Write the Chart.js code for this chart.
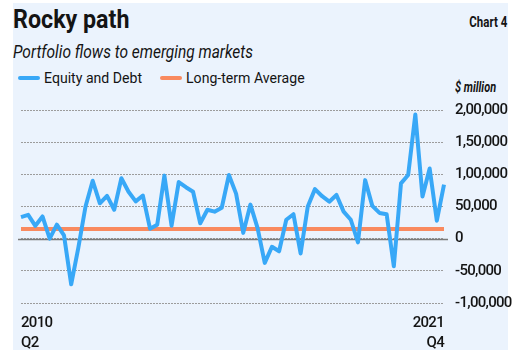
<!DOCTYPE html>
<html>
<head>
<meta charset="utf-8">
<script src="https://cdn.jsdelivr.net/npm/chart.js@4/dist/chart.umd.min.js"></script>
<style>
  body { margin: 0; background: #fff; }
  #box { position: relative; width: 527px; height: 361px; overflow: hidden; }
  #panel { position: absolute; left: 13px; top: 3px; width: 495px; height: 347px; background: #ebf3fd; }
  .txt { position: absolute; font-family: "Roboto", sans-serif; color: #141414; white-space: nowrap; transform-origin: left center; }
  #title { left: 13px; top: 7px; font-size: 25px; line-height: 26px; font-weight: bold; transform: scaleX(0.93); }
  #chartNo { right: 20px; top: 14px; font-size: 14px; line-height: 16px; font-weight: bold; transform-origin: right center; transform: scaleX(0.82); }
  #subtitle { left: 13px; top: 42px; font-size: 18px; line-height: 20px; font-style: italic; transform: scaleX(0.86); }
  #unit { left: 455px; top: 79px; font-size: 14px; line-height: 16px; font-weight: bold; font-style: italic; transform: scaleX(0.78); }
  .sw { position: absolute; height: 4px; width: 22px; border-radius: 2px; }
  .leg { top: 69px; font-size: 15px; line-height: 18px; transform: scaleX(0.94); }
  canvas { position: absolute; left: 0; top: 0; }
</style>
</head>
<body>
<div id="box">
  <div id="panel"></div>
  <div class="txt" id="title">Rocky path</div>
  <div class="txt" id="chartNo">Chart 4</div>
  <div class="txt" id="subtitle">Portfolio flows to emerging markets</div>
  <div id="legend"></div>
  <div class="txt" id="unit">$ million</div>
  <canvas id="grafico" width="527" height="361"></canvas>
</div>
<script>
// dati ($ million), un punto per periodo da 2010 Q2 a 2021 Q4
var equityDebt = [33600, 37000, 20000, 34500, 0, 21700, 5000, -71000, -14000, 50000,
  90000, 55000, 66500, 45000, 94000, 73000, 58000, 67000, 15500, 21700,
  98000, 20000, 88000, 80000, 73000, 24000, 45000, 42000, 48000, 99000,
  70000, 9000, 53000, 16500, -37600, -12500, -19600, 29400, 38000, -23000,
  50000, 77000, 66000, 57500, 68000, 42000, 29400, -5700, 91000, 51000,
  40000, 38000, -43000, 86000, 99000, 193000, 65500, 109000, 28000, 84000];
var longTermAvg = 15000;

var firstTick = ['2010', 'Q2'];
var lastTick = ['2021', 'Q4'];
var yTicks = [-100000, -50000, 0, 50000, 100000, 150000, 200000];
var yTickText = ['-1,00,000', '-50,000', '0', '50,000', '1,00,000', '1,50,000', '2,00,000'];

var seriesNames = ['Equity and Debt', 'Long-term Average'];
var seriesColors = ['#38a8f7', '#f98a5f'];

var categorie = equityDebt.map(function (v, i) {
  if (i === 0) return firstTick;
  if (i === equityDebt.length - 1) return lastTick;
  return '';
});

// legenda html
var legendHtml = '';
var legX = [18, 160];
for (var s = 0; s < seriesNames.length; s++) {
  legendHtml += '<div class="sw" style="left:' + legX[s] + 'px;top:76px;background:' + seriesColors[s] + '"></div>';
  legendHtml += '<div class="txt leg" style="left:' + (legX[s] + 26) + 'px">' + seriesNames[s] + '</div>';
}
document.getElementById('legend').innerHTML = legendHtml;

// testo un po' piu stretto sul canvas (font condensato non disponibile)
var strettoTesto = {
  id: 'strettoTesto',
  beforeUpdate: function (chart) { chart.ctx.letterSpacing = '-0.7px'; },
  beforeDraw: function (chart) { chart.ctx.letterSpacing = '-0.7px'; }
};

// linea dello zero
var zeroLine = {
  id: 'zeroLine',
  beforeDatasetsDraw: function (chart) {
    var ctx = chart.ctx;
    var area = chart.chartArea;
    var y = Math.round(chart.scales.y.getPixelForValue(0)) + 0.5;
    ctx.save();
    ctx.strokeStyle = '#7a7a7a';
    ctx.lineWidth = 1.6;
    ctx.beginPath();
    ctx.moveTo(area.left - 3, y);
    ctx.lineTo(area.right + 4, y);
    ctx.stroke();
    ctx.restore();
  }
};

var fontBase = { family: '"Roboto", sans-serif', size: 15, weight: '500' };

var grafico = new Chart(document.getElementById('grafico'), {
  type: 'line',
  data: {
    labels: categorie,
    datasets: [{
      label: seriesNames[1],
      data: equityDebt.map(function () { return longTermAvg; }),
      borderColor: seriesColors[1],
      borderWidth: 4,
      pointRadius: 0,
      tension: 0,
      order: 2
    }, {
      label: seriesNames[0],
      data: equityDebt,
      borderColor: seriesColors[0],
      borderWidth: 4,
      pointRadius: 0,
      tension: 0,
      borderJoinStyle: 'round',
      order: 1
    }]
  },
  options: {
    responsive: false,
    animation: false,
    devicePixelRatio: 1,
    layout: { padding: { left: 21, right: 0, top: 110, bottom: 0 } },
    plugins: {
      legend: { display: false },
      tooltip: { enabled: false }
    },
    scales: {
      x: {
        offset: false,
        grid: { display: false, drawTicks: false },
        border: { display: false },
        afterFit: function (scale) { scale.height = 58; },
        ticks: {
          autoSkip: false,
          maxRotation: 0,
          align: 'inner',
          padding: 10,
          color: '#141414',
          font: { family: fontBase.family, size: 15, weight: '500', lineHeight: 1.33 }
        }
      },
      y: {
        position: 'right',
        min: -100000,
        max: 200000,
        afterFit: function (scale) { scale.width = 83; },
        afterBuildTicks: function (scale) {
          scale.ticks = yTicks.map(function (v) { return { value: v }; });
        },
        grid: { color: '#9c9c9c', lineWidth: 1, drawTicks: false },
        border: { display: false, dash: [2, 1] },
        ticks: {
          padding: 11,
          color: '#141414',
          font: fontBase,
          callback: function (value) {
            var i = yTicks.indexOf(value);
            return i >= 0 ? yTickText[i] : '';
          }
        }
      }
    }
  },
  plugins: [strettoTesto, zeroLine]
});

console.log('chart ok');
</script>
</body>
</html>
